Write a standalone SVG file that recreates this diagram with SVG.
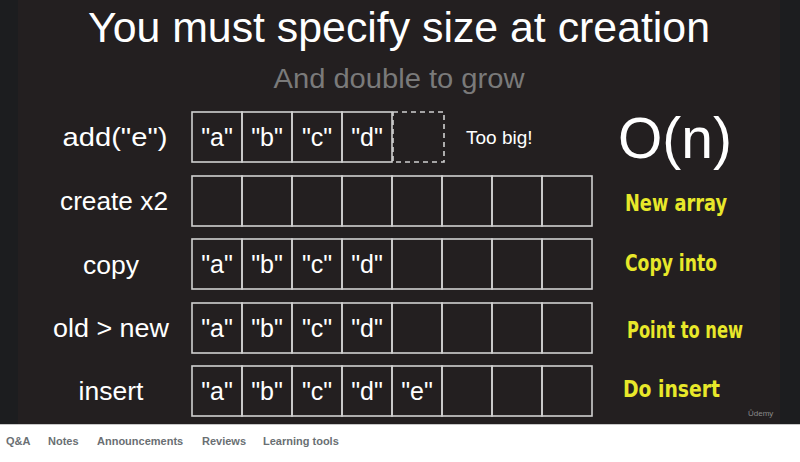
<svg xmlns="http://www.w3.org/2000/svg" width="800" height="462" viewBox="0 0 800 462">
<style>
.cell{fill:none;stroke:#d0d0d0;stroke-width:1.6}
.dash{fill:none;stroke:#d0d0d0;stroke-width:1.6;stroke-dasharray:5 4}
.lbl{font-family:"Liberation Sans",Arial,sans-serif;font-size:26.5px;fill:#fff;text-anchor:middle}
.v{font-family:"Liberation Sans",Arial,sans-serif;font-size:25px;fill:#fff;text-anchor:middle}
.hand{font-family:"DejaVu Sans Condensed","DejaVu Sans",sans-serif;font-weight:bold;font-size:23px;fill:#e8e82a}
.tab{font-family:"Liberation Sans",Arial,sans-serif;font-size:11px;font-weight:bold;fill:#6a6f73}
</style>
<rect x="0" y="0" width="800" height="462" fill="#1c1d1f"/>
<rect x="18" y="0" width="762" height="424" fill="#231f20"/>
<rect x="0" y="424" width="800" height="38" fill="#fff"/>
<line x1="0" y1="424.5" x2="800" y2="424.5" stroke="#c8c8c8" stroke-width="1"/>
<text x="399" y="42" font-family="Liberation Sans,Arial,sans-serif" font-size="43" fill="#fff" text-anchor="middle" textLength="622" lengthAdjust="spacingAndGlyphs">You must specify size at creation</text>
<text x="399" y="88" font-family="Liberation Sans,Arial,sans-serif" font-size="27" fill="#7a7a7a" text-anchor="middle" textLength="251" lengthAdjust="spacingAndGlyphs">And double to grow</text>

<g id="row1">
<text class="lbl" x="115" y="146" textLength="105" lengthAdjust="spacingAndGlyphs">add("e")</text>
<rect class="cell" x="192" y="112" width="50" height="50"/>
<rect class="cell" x="242" y="112" width="50" height="50"/>
<rect class="cell" x="292" y="112" width="50" height="50"/>
<rect class="cell" x="342" y="112" width="50" height="50"/>
<rect class="dash" x="393" y="112" width="51" height="50"/>
<text class="v" x="217" y="146">"a"</text>
<text class="v" x="267" y="146">"b"</text>
<text class="v" x="317" y="146">"c"</text>
<text class="v" x="367" y="146">"d"</text>
<text x="466" y="144" font-family="Liberation Sans,Arial,sans-serif" font-size="19" fill="#fff">Too big!</text>
<text x="675" y="158" font-family="Liberation Sans,Arial,sans-serif" font-size="57" fill="#fff" text-anchor="middle">O(n)</text>
</g>

<g id="row2">
<text class="lbl" x="114" y="210" textLength="108" lengthAdjust="spacingAndGlyphs">create x2</text>
<rect class="cell" x="192" y="176" width="50" height="50"/>
<rect class="cell" x="242" y="176" width="50" height="50"/>
<rect class="cell" x="292" y="176" width="50" height="50"/>
<rect class="cell" x="342" y="176" width="50" height="50"/>
<rect class="cell" x="392" y="176" width="50" height="50"/>
<rect class="cell" x="442" y="176" width="50" height="50"/>
<rect class="cell" x="492" y="176" width="50" height="50"/>
<rect class="cell" x="542" y="176" width="50" height="50"/>
<text class="hand" x="625" y="211" textLength="102" lengthAdjust="spacingAndGlyphs">New array</text>
</g>

<g id="row3">
<text class="lbl" x="111" y="274">copy</text>
<rect class="cell" x="192" y="239" width="50" height="50"/>
<rect class="cell" x="242" y="239" width="50" height="50"/>
<rect class="cell" x="292" y="239" width="50" height="50"/>
<rect class="cell" x="342" y="239" width="50" height="50"/>
<rect class="cell" x="392" y="239" width="50" height="50"/>
<rect class="cell" x="442" y="239" width="50" height="50"/>
<rect class="cell" x="492" y="239" width="50" height="50"/>
<rect class="cell" x="542" y="239" width="50" height="50"/>
<text class="v" x="217" y="273">"a"</text>
<text class="v" x="267" y="273">"b"</text>
<text class="v" x="317" y="273">"c"</text>
<text class="v" x="367" y="273">"d"</text>
<text class="hand" x="625" y="271" textLength="92" lengthAdjust="spacingAndGlyphs">Copy into</text>
</g>

<g id="row4">
<text class="lbl" x="111" y="337" textLength="116" lengthAdjust="spacingAndGlyphs">old &gt; new</text>
<rect class="cell" x="192" y="303" width="50" height="50"/>
<rect class="cell" x="242" y="303" width="50" height="50"/>
<rect class="cell" x="292" y="303" width="50" height="50"/>
<rect class="cell" x="342" y="303" width="50" height="50"/>
<rect class="cell" x="392" y="303" width="50" height="50"/>
<rect class="cell" x="442" y="303" width="50" height="50"/>
<rect class="cell" x="492" y="303" width="50" height="50"/>
<rect class="cell" x="542" y="303" width="50" height="50"/>
<text class="v" x="217" y="337">"a"</text>
<text class="v" x="267" y="337">"b"</text>
<text class="v" x="317" y="337">"c"</text>
<text class="v" x="367" y="337">"d"</text>
<text class="hand" x="627" y="338" textLength="116" lengthAdjust="spacingAndGlyphs">Point to new</text>
</g>

<g id="row5">
<text class="lbl" x="111" y="400">insert</text>
<rect class="cell" x="192" y="366" width="50" height="50"/>
<rect class="cell" x="242" y="366" width="50" height="50"/>
<rect class="cell" x="292" y="366" width="50" height="50"/>
<rect class="cell" x="342" y="366" width="50" height="50"/>
<rect class="cell" x="392" y="366" width="50" height="50"/>
<rect class="cell" x="442" y="366" width="50" height="50"/>
<rect class="cell" x="492" y="366" width="50" height="50"/>
<rect class="cell" x="542" y="366" width="50" height="50"/>
<text class="v" x="217" y="400">"a"</text>
<text class="v" x="267" y="400">"b"</text>
<text class="v" x="317" y="400">"c"</text>
<text class="v" x="367" y="400">"d"</text>
<text class="v" x="417" y="400">"e"</text>
<text class="hand" x="623" y="397" textLength="97" lengthAdjust="spacingAndGlyphs">Do insert</text>
</g>

<text x="748" y="416" font-family="Liberation Sans,Arial,sans-serif" font-size="8" fill="#8a8a8a">Ûdemy</text>

<g id="tabs">
<text class="tab" x="6" y="445">Q&amp;A</text>
<text class="tab" x="48" y="445">Notes</text>
<text class="tab" x="97" y="445">Announcements</text>
<text class="tab" x="202" y="445">Reviews</text>
<text class="tab" x="263" y="445">Learning tools</text>
</g>
</svg>
